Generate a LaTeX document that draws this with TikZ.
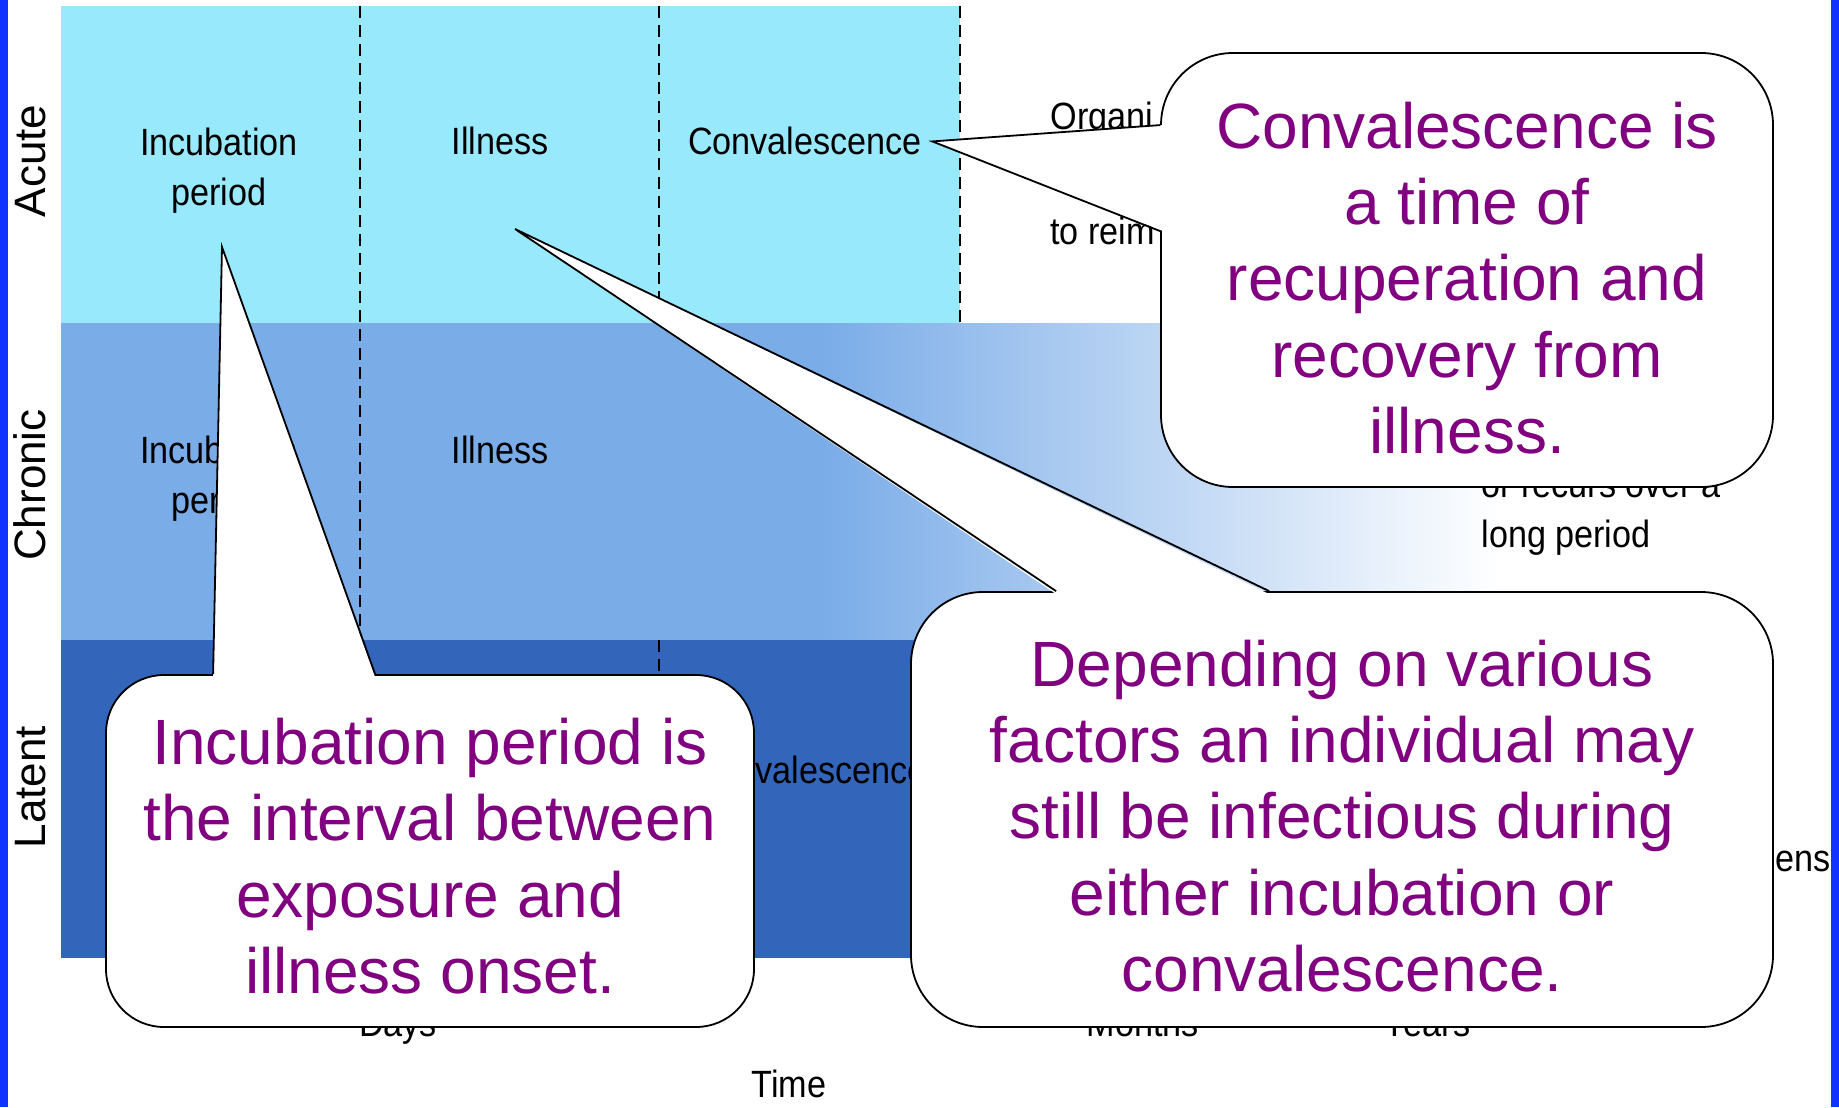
\documentclass[tikz,border=0pt]{standalone}
\usepackage{fontspec}
\setmainfont{Liberation Sans}
\newfontfamily\narrowfont[FakeStretch=0.9]{Liberation Sans}
\usepackage{tikz}
\usetikzlibrary{calc}
\definecolor{acutecol}{RGB}{153,233,253}
\definecolor{chroniccol}{RGB}{122,172,232}
\definecolor{latentcol}{RGB}{51,102,187}
\definecolor{notecol}{RGB}{128,0,128}
\definecolor{edgeblue}{RGB}{17,51,255}

\begin{document}
\begin{tikzpicture}[x=0.5pt,y=-0.5pt,
  lbl/.style={font=\narrowfont\fontsize{19}{25}\selectfont, inner sep=0pt, align=center},
  rowlbl/.style={font=\fontsize{22}{26}\selectfont, rotate=90, inner sep=0pt, anchor=base},
  phase/.style={black, line width=1.1pt, dash pattern=on 6pt off 3.5pt},
  notebox/.style={draw=black, fill=white, line width=0.9pt, rounded corners=#1, inner sep=0pt},
  notebox/.default=36pt,
  notetxt/.style={text=notecol, font=\fontsize{32}{38.2}\selectfont, inner sep=0pt, align=center},
  tail/.style={draw=black, line width=0.9pt, line join=miter}]
\useasboundingbox (0,0) rectangle (1839,1107);
\fill[white] (0,0) rectangle (1839,1107);
\fill[edgeblue] (0,0) rectangle (8,1107);
\fill[edgeblue] (1831,0) rectangle (1839,1107);

\fill[acutecol] (61,6) rectangle (960,323);
\fill[chroniccol] (61,323) rectangle (821,640);
\shade[left color=chroniccol, right color=white] (820,323) rectangle (1500,640);
\fill[latentcol] (61,640) rectangle (1100,958);

\draw[phase] (360,6) -- (360,640);
\draw[phase] (659,6) -- (659,323);
\draw[phase] (659,640) -- (659,958);
\draw[phase] (960,6) -- (960,323);

\node[rowlbl] (acute) at (45,161) {Acute};
\node[rowlbl] (chronic) at (45,485) {Chronic};
\node[rowlbl] (latent) at (45,787) {Latent};

\node[lbl, anchor=north] (incA) at (219,128) {Incubation\\period};
\node[lbl, anchor=base] (illA) at (500,155) {Illness};
\node[lbl, anchor=base] (conA) at (805,155) {Convalescence};
\node[lbl, anchor=base west] (orgA) at (1050,130) {Organi};
\node[lbl, anchor=base west] (reimA) at (1050,244) {to reim};
\node[lbl, anchor=north] (incC) at (219,436) {Incubation\\period};
\node[lbl, anchor=base] (illC) at (500,463) {Illness};
\node[lbl, anchor=base west] (recC) at (1481,497) {or recurs over a};
\node[lbl, anchor=base west] (longC) at (1481,547) {long period};
\node[lbl, anchor=base] (conL) at (810,783) {Convalescence};
\node[lbl, anchor=base west] (ensL) at (1775,871) {ens};
\node[lbl, anchor=base] (days) at (398,1036) {Days};
\node[lbl, anchor=base] (months) at (1143,1036) {Months};
\node[lbl, anchor=base] (years) at (1427,1036) {Years};
\node[lbl, anchor=base] (time) at (789,1097) {Time};

\coordinate (tipCon) at ($(conA.east)+(10,0)$);
\coordinate (tipInc) at (222,247);
\coordinate (tipIll) at (515,229);

\node[notebox, minimum width=306pt, minimum height=217pt] (convbox) at (1467,270) {};
\coordinate (convA) at ($(convbox.north west)+(0,73)$);
\coordinate (convB) at ($(convbox.north west)+(0,179)$);
\fill[white] ($(convA)+(3,0)$) -- (tipCon) -- ($(convB)+(3,0)$) -- cycle;
\draw[tail] (convA) -- (tipCon) -- (convB);
\node[notetxt] (convnote) at (1467,278) {Convalescence is\\a time of\\recuperation and\\recovery from\\illness.};

\node[notebox=29pt, minimum width=324pt, minimum height=176pt] (incbox) at (430,851) {};
\coordinate (incA') at ($(incbox.north west)+(108,0)$);
\coordinate (incB') at ($(incbox.north west)+(270,0)$);
\fill[white] ($(incA')+(0,3)$) -- (tipInc) -- ($(incB')+(0,3)$) -- cycle;
\draw[tail] (incA') -- (tipInc) -- (incB');
\node[notetxt] (incnote) at (430,856) {Incubation period is\\the interval between\\exposure and\\illness onset.};

\node[notebox, minimum width=431pt, minimum height=217.5pt] (depbox) at (1342,809.5) {};
\coordinate (depA) at ($(depbox.north west)+(146,0)$);
\coordinate (depB) at ($(depbox.north west)+(359,0)$);
\fill[white] ($(depA)+(0,3)$) -- (tipIll) -- ($(depB)+(0,3)$) -- cycle;
\draw[tail] (depA) -- (tipIll) -- (depB);
\node[notetxt] (depnote) at (1342,816) {Depending on various\\factors an individual may\\still be infectious during\\either incubation or\\convalescence.};
\end{tikzpicture}
\end{document}
